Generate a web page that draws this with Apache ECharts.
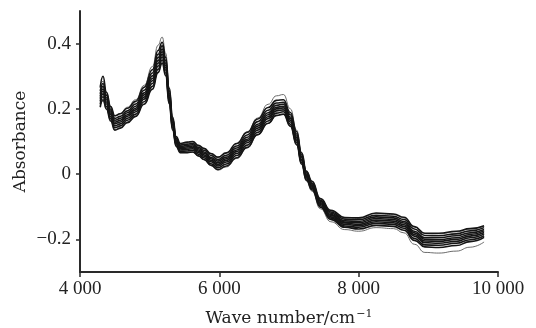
<!DOCTYPE html>
<html>
<head>
<meta charset="utf-8">
<script src="https://cdn.jsdelivr.net/npm/echarts@6/dist/echarts.min.js"></script>
<style>html,body{margin:0;padding:0;background:#fff;}#chart{width:536px;height:328px;}</style>
</head>
<body>
<div id="chart"></div>
<script>
// Wave numbers (cm^-1) at which spectra are read
const wavenumbers = [4290,4330,4380,4440,4500,4580,4680,4800,4920,5040,5120,5180,5230,5280,5330,5380,5440,5540,5620,5700,5780,5880,5980,6100,6250,6400,6550,6700,6820,6920,7020,7110,7180,7250,7330,7450,7600,7800,8000,8250,8500,8650,8800,8950,9150,9400,9600,9800];

// Individual spectra (absorbance)
const spectrumA = [.205,.228,.199,.163,.135,.141,.158,.177,.214,.260,.311,.340,.302,.216,.135,.085,.066,.066,.068,.056,.045,.027,.014,.025,.050,.082,.121,.156,.180,.184,.147,.090,.031,-.019,-.048,-.101,-.139,-.163,-.168,-.157,-.160,-.172,-.203,-.223,-.225,-.219,-.207,-.194];
const spectrumB = [.214,.237,.207,.170,.142,.148,.165,.184,.222,.269,.321,.350,.310,.223,.141,.090,.070,.071,.073,.061,.050,.032,.020,.031,.057,.089,.128,.163,.187,.191,.153,.096,.036,-.015,-.044,-.097,-.135,-.159,-.163,-.151,-.154,-.166,-.197,-.217,-.218,-.212,-.201,-.189];
const spectrumC = [.223,.246,.215,.176,.148,.154,.171,.191,.230,.278,.331,.359,.319,.230,.147,.094,.074,.076,.078,.066,.055,.038,.025,.037,.063,.096,.135,.170,.194,.197,.160,.102,.041,-.011,-.040,-.093,-.131,-.154,-.158,-.146,-.149,-.160,-.190,-.210,-.212,-.206,-.195,-.183];
const spectrumD = [.231,.254,.221,.182,.154,.160,.177,.197,.236,.286,.340,.367,.326,.236,.152,.098,.078,.080,.082,.070,.059,.042,.030,.042,.069,.102,.141,.176,.200,.203,.165,.107,.045,-.007,-.037,-.090,-.127,-.150,-.154,-.141,-.144,-.155,-.185,-.205,-.206,-.200,-.190,-.179];
const spectrumE = [.238,.261,.228,.187,.159,.165,.182,.202,.243,.293,.348,.375,.333,.242,.157,.102,.081,.084,.086,.074,.064,.047,.035,.047,.074,.107,.147,.182,.205,.208,.170,.112,.050,-.004,-.034,-.087,-.124,-.147,-.149,-.136,-.139,-.150,-.180,-.200,-.201,-.195,-.185,-.174];
const spectrumF = [.246,.269,.234,.193,.165,.171,.188,.208,.249,.301,.357,.383,.340,.248,.162,.105,.085,.088,.090,.078,.068,.051,.040,.052,.080,.113,.153,.188,.211,.214,.175,.117,.054,.000,-.030,-.083,-.120,-.143,-.145,-.131,-.134,-.145,-.175,-.195,-.195,-.189,-.180,-.170];
const spectrumG = [.255,.278,.242,.199,.171,.177,.194,.215,.257,.310,.367,.393,.348,.256,.168,.110,.089,.092,.094,.082,.073,.057,.045,.058,.086,.120,.161,.196,.218,.220,.182,.123,.059,.004,-.027,-.080,-.116,-.138,-.140,-.126,-.129,-.139,-.168,-.188,-.189,-.183,-.174,-.164];
const spectrumH = [.265,.300,.251,.207,.179,.185,.202,.223,.266,.320,.379,.404,.358,.264,.175,.115,.094,.098,.100,.088,.079,.063,.052,.065,.094,.128,.169,.204,.226,.228,.189,.130,.065,.009,-.022,-.075,-.111,-.133,-.134,-.119,-.122,-.132,-.161,-.181,-.181,-.175,-.167,-.158];
const spectrumHigh = [.270,.285,.250,.205,.178,.186,.205,.228,.272,.330,.395,.420,.370,.265,.170,.110,.092,.096,.098,.086,.078,.062,.050,.064,.093,.130,.172,.214,.240,.244,.200,.135,.066,.010,-.022,-.076,-.112,-.134,-.136,-.121,-.124,-.134,-.162,-.182,-.183,-.177,-.168,-.160];
const spectrumLow = [.210,.225,.200,.165,.136,.142,.160,.178,.215,.262,.312,.342,.303,.217,.136,.086,.066,.066,.067,.055,.044,.026,.012,.022,.048,.080,.120,.155,.179,.183,.146,.089,.030,-.021,-.052,-.106,-.146,-.170,-.175,-.164,-.167,-.180,-.215,-.240,-.242,-.236,-.224,-.208];

const mainSpectra = [spectrumA, spectrumB, spectrumC, spectrumD, spectrumE, spectrumF, spectrumG, spectrumH];
const outlierSpectra = [spectrumHigh, spectrumLow];

const xTicks = [4000, 6000, 8000, 10000];
const yTicks = [-0.2, 0, 0.2, 0.4];

function pairs(vals) { return wavenumbers.map((w, i) => [w, vals[i]]); }

const series = [];
outlierSpectra.forEach(s => series.push({
  type: 'line', data: pairs(s), showSymbol: false, smooth: 0.5, smoothMonotone: 'x',
  lineStyle: { color: '#5a5a5a', width: 0.9 }, silent: true
}));
mainSpectra.forEach(s => series.push({
  type: 'line', data: pairs(s), showSymbol: false, smooth: 0.5, smoothMonotone: 'x',
  lineStyle: { color: '#151515', width: 1.6 }, silent: true
}));

const tickFont = { fontFamily: 'Liberation Serif', fontSize: 19, color: '#222' };
const axisLineStyle = { color: '#2a2a2a', width: 2 };

const chart = echarts.init(document.getElementById('chart'), null, { renderer: 'canvas' });
chart.setOption({
  animation: false,
  backgroundColor: '#fff',
  grid: { left: 80, right: 38, top: 11, bottom: 56, containLabel: false, outerBoundsMode: 'none' },
  xAxis: {
    type: 'value', min: 4000, max: 10000, interval: 2000,
    splitLine: { show: false },
    axisLine: { show: true, onZero: false, lineStyle: axisLineStyle },
    axisTick: { show: true, inside: false, length: 5, lineStyle: { color: '#2a2a2a', width: 1.5 }, customValues: xTicks },
    axisLabel: Object.assign({ margin: 8, customValues: xTicks,
      formatter: v => { const s = String(Math.round(v)); return s.slice(0, s.length - 3) + ' ' + s.slice(-3); } }, tickFont),
    name: '{a|Wave number/cm}{s|−1}',
    nameLocation: 'middle', nameGap: 37, nameMoveOverlap: false,
    nameTextStyle: {
      fontFamily: 'DejaVu Serif', fontSize: 17, color: '#222', verticalAlign: 'top',
      rich: {
        a: { fontFamily: 'DejaVu Serif', fontSize: 17, color: '#222', lineHeight: 20 },
        s: { fontFamily: 'DejaVu Serif', fontSize: 11, color: '#222', verticalAlign: 'top', lineHeight: 20, padding: [0, 0, 8, 1] }
      }
    }
  },
  yAxis: {
    type: 'value', min: -0.3, max: 0.5,
    splitLine: { show: false },
    axisLine: { show: true, onZero: false, lineStyle: axisLineStyle },
    axisTick: { show: true, inside: false, length: 4, lineStyle: { color: '#2a2a2a', width: 1.5 }, customValues: yTicks },
    axisLabel: Object.assign({ margin: 9, customValues: yTicks,
      formatter: v => v < 0 ? '−' + String(Math.abs(v)) : String(v) }, tickFont),
    name: 'Absorbance', nameLocation: 'middle', nameGap: 59, nameRotate: 90, nameMoveOverlap: false,
    nameTextStyle: { fontFamily: 'DejaVu Serif', fontSize: 17, color: '#222', verticalAlign: 'middle', align: 'center' }
  },
  series: series
});
</script>
</body>
</html>
